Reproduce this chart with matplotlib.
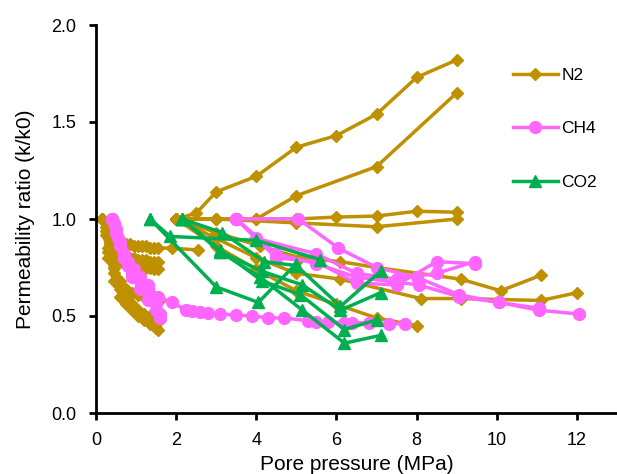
import matplotlib
matplotlib.use("Agg")
import matplotlib.pyplot as plt
from matplotlib.ticker import FormatStrFormatter

plt.rcParams['font.family'] = ['Liberation Sans', 'DejaVu Sans']

# ---------------- data ----------------
n2_series = [
    ([2.0, 2.5, 3.0, 4.0, 5.0, 6.0, 7.0, 8.0, 9.0], [1.0, 1.03, 1.14, 1.22, 1.37, 1.43, 1.54, 1.73, 1.82]),
    ([2.0, 3.0, 4.0, 5.0, 7.0, 9.0], [1.0, 1.0, 1.0, 1.12, 1.27, 1.65]),
    ([2.0, 3.0, 4.0, 5.0, 6.0, 7.0, 8.0, 9.0], [1.0, 1.0, 1.0, 1.0, 1.01, 1.015, 1.04, 1.035]),
    ([2.0, 3.0, 5.0, 7.0, 9.0], [1.0, 1.0, 0.98, 0.96, 1.0]),
    ([2.0, 3.0, 4.1, 5.1, 6.1, 7.0, 9.1, 10.1, 11.1], [1.0, 0.93, 0.86, 0.80, 0.78, 0.75, 0.69, 0.63, 0.71]),
    ([2.0, 3.0, 4.0, 5.0, 6.1, 8.1, 9.1, 11.1, 12.0], [1.0, 0.90, 0.80, 0.72, 0.69, 0.59, 0.59, 0.58, 0.62]),
    ([2.0, 3.0, 4.0, 5.0, 6.0, 7.0, 8.0], [1.0, 0.86, 0.74, 0.63, 0.56, 0.49, 0.45]),
    ([0.15, 0.25, 0.35, 0.45, 0.55, 0.65, 0.75, 0.85, 0.95, 1.05, 1.15, 1.25, 1.35, 1.45, 1.55, 1.9, 2.55],
     [1.0, 0.96, 0.92, 0.90, 0.89, 0.88, 0.87, 0.87, 0.86, 0.86, 0.86, 0.86, 0.85, 0.85, 0.85, 0.85, 0.84]),
    ([0.15, 0.25, 0.35, 0.45, 0.55, 0.65, 0.75, 0.85, 0.95, 1.05, 1.15, 1.25, 1.35, 1.45, 1.55],
     [1.0, 0.94, 0.88, 0.85, 0.83, 0.82, 0.81, 0.80, 0.80, 0.79, 0.79, 0.79, 0.78, 0.78, 0.78]),
    ([0.15, 0.25, 0.35, 0.45, 0.55, 0.65, 0.75, 0.85, 0.95, 1.05, 1.15, 1.25, 1.35, 1.45, 1.55],
     [1.0, 0.92, 0.85, 0.81, 0.79, 0.78, 0.77, 0.77, 0.76, 0.76, 0.75, 0.75, 0.75, 0.74, 0.74]),
    ([0.15, 0.3, 0.45, 0.6, 0.75, 0.9, 1.05, 1.2, 1.35, 1.5, 1.6],
     [1.0, 0.85, 0.75, 0.68, 0.64, 0.62, 0.61, 0.60, 0.60, 0.59, 0.58]),
    ([0.15, 0.3, 0.45, 0.6, 0.75, 0.9, 1.05, 1.2, 1.35, 1.5, 1.6],
     [1.0, 0.83, 0.72, 0.64, 0.59, 0.56, 0.53, 0.51, 0.50, 0.49, 0.48]),
    ([0.15, 0.3, 0.45, 0.6, 0.75, 0.9, 1.05, 1.2, 1.35, 1.5, 1.55],
     [1.0, 0.80, 0.68, 0.60, 0.56, 0.53, 0.50, 0.48, 0.46, 0.44, 0.43]),
]

ch4_series = [
    ([0.4, 0.45, 0.5, 0.6, 0.7, 0.8, 0.95, 1.1, 1.3, 1.55, 1.9, 2.25, 2.4, 2.6, 2.8, 3.1, 3.5, 3.9, 4.3, 4.7,
      5.3, 5.5, 5.8, 6.2, 6.4, 6.8, 7.3, 7.7],
     [1.0, 0.98, 0.95, 0.88, 0.82, 0.78, 0.74, 0.70, 0.66, 0.60, 0.57, 0.53, 0.525, 0.52, 0.515, 0.51, 0.505,
      0.50, 0.49, 0.49, 0.475, 0.47, 0.47, 0.465, 0.465, 0.465, 0.46, 0.46]),
    ([0.4, 0.5, 0.6, 0.7, 0.8, 0.9, 1.0, 1.1, 1.3, 1.5, 1.6],
     [1.0, 0.93, 0.86, 0.80, 0.76, 0.72, 0.70, 0.68, 0.64, 0.56, 0.49]),
    ([0.4, 0.55, 0.7, 0.9, 1.1, 1.3, 1.5, 1.6],
     [1.0, 0.90, 0.80, 0.70, 0.64, 0.58, 0.53, 0.51]),
    ([3.5, 5.05, 6.05, 7.0, 8.0, 9.05, 10.05, 11.05, 12.05],
     [1.0, 1.0, 0.85, 0.75, 0.70, 0.61, 0.57, 0.53, 0.51]),
    ([3.5, 4.0, 5.5, 6.5, 7.5, 8.5, 9.45], [1.0, 0.90, 0.82, 0.72, 0.69, 0.72, 0.78]),
    ([3.5, 4.5, 5.5, 6.5, 7.5, 8.5, 9.45], [1.0, 0.80, 0.78, 0.67, 0.66, 0.78, 0.77]),
    ([3.5, 4.5, 5.5, 6.5, 8.06, 9.05, 10.05, 11.05], [1.0, 0.82, 0.77, 0.70, 0.66, 0.60, 0.57, 0.54]),
]

co2_series = [
    ([1.35, 3.0, 4.05, 5.0], [1.0, 0.65, 0.57, 0.77]),
    ([1.35, 1.85, 4.0, 5.6], [1.0, 0.91, 0.89, 0.79]),
    ([2.15, 3.15, 4.2, 5.0, 6.1, 7.1], [1.0, 0.93, 0.78, 0.76, 0.55, 0.73]),
    ([2.15, 3.13, 4.15, 5.15, 6.1, 7.1], [1.0, 0.83, 0.73, 0.66, 0.53, 0.62]),
    ([2.15, 3.1, 4.15, 5.1, 6.2, 7.0], [1.0, 0.84, 0.68, 0.61, 0.43, 0.48]),
    ([2.15, 3.1, 4.1, 5.15, 6.2, 7.1], [1.0, 0.83, 0.70, 0.53, 0.36, 0.40]),
]

labels = ["N2", "CH4", "CO2"]
x_ticks = [0, 2, 4, 6, 8, 10, 12]
y_ticks = [0.0, 0.5, 1.0, 1.5, 2.0]

# ---------------- plot ----------------
fig = plt.figure(figsize=(6.17, 4.74), dpi=100)
ax = fig.add_axes([96 / 617, 1 - 413 / 474, 521 / 617, 388 / 474])

styles = [
    (n2_series, "#BF9000", "D", 6.5),
    (ch4_series, "#FF66FF", "o", 8.5),
    (co2_series, "#00B050", "^", 8.5),
]
for (series, color, marker, ms), lab in zip(styles, labels):
    for i, (xs, ys) in enumerate(series):
        ax.plot(xs, ys, color=color, marker=marker, markersize=ms, linewidth=2.5,
                label=lab if i == 0 else None)

ax.set_xlim(0, 13)
ax.set_ylim(0, 2.0)
ax.set_xticks(x_ticks)
ax.set_yticks(y_ticks)
ax.yaxis.set_major_formatter(FormatStrFormatter('%.1f'))
for s in ["top", "right"]:
    ax.spines[s].set_visible(False)
for s in ["left", "bottom"]:
    ax.spines[s].set_linewidth(2)
ax.tick_params(axis='both', which='major', labelsize=13, width=2, length=5, direction='out')
ax.tick_params(axis='x', pad=9)
ax.tick_params(axis='y', pad=9)
ax.set_xlabel("Pore pressure (MPa)", fontsize=15, labelpad=4)
ax.set_ylabel("Permeability ratio (k/k0)", fontsize=15, labelpad=12)

ax.legend(loc="upper left", bbox_to_anchor=(0.77, 0.93), frameon=False, fontsize=12.5,
          labelspacing=2.2, handlelength=2.6, handletextpad=0.2)

fig.savefig("out.png", dpi=100)
